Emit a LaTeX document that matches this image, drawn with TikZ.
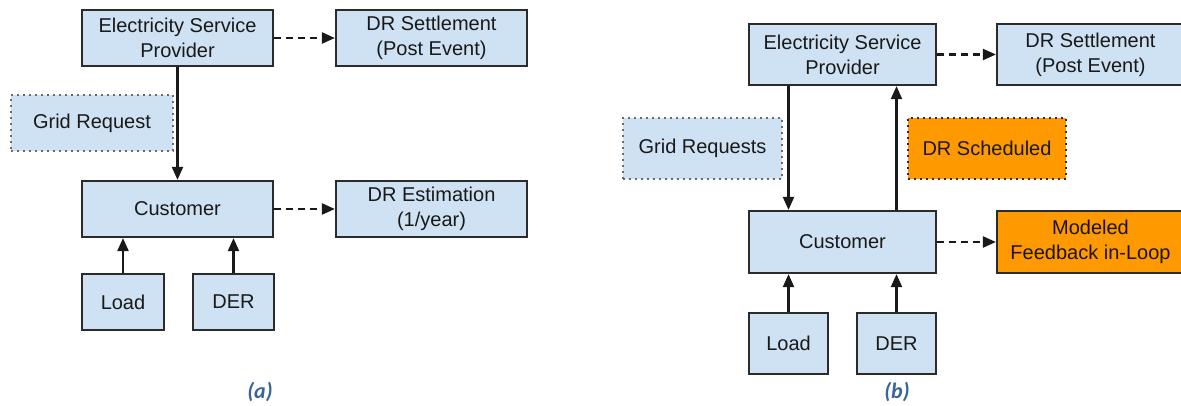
\documentclass[tikz,border=0pt]{standalone}
\usepackage{fontspec}
\setmainfont{Liberation Sans}
\newfontfamily\capfont{Carlito}
\usetikzlibrary{arrows.meta}
\definecolor{boxblue}{HTML}{CFE2F3}
\definecolor{boxorange}{HTML}{FF9900}
\definecolor{edgegray}{HTML}{2B2B2B}
\definecolor{capblue}{HTML}{3A6598}
\tikzset{
  base/.style={draw=edgegray, line width=2.2pt, align=center, inner sep=0pt,
    font=\fontsize{20}{25}\selectfont, text=black!90},
  bluebox/.style={base, fill=boxblue},
  orangebox/.style={base, fill=boxorange, text=black!85!brown},
  dotbox/.style={base, draw=edgegray!70, dash pattern=on 2pt off 4pt},
  solidarrow/.style={line width=2.2pt, draw=black!90, -{Triangle[length=13pt,width=11pt]}},
  dasharrow/.style={solidarrow, dash pattern=on 7pt off 5pt},
  caption/.style={font=\capfont\bfseries\itshape\fontsize{22}{26}\selectfont, text=capblue}
}
\begin{document}
\begin{tikzpicture}[x=1pt,y=-1pt]
\useasboundingbox (0,0) rectangle (1181,406);
\clip (0,0) rectangle (1181,406);
% ---------- panel (a)
\node[bluebox, minimum width=191pt, minimum height=56pt] (aesp) at (177.5,38) {Electricity Service\\Provider};
\node[bluebox, minimum width=191pt, minimum height=56pt] (adrs) at (431.5,38) {DR Settlement\\(Post Event)};
\node[bluebox, dotbox, minimum width=162pt, minimum height=56pt] (agr) at (92,123) {Grid Request};
\node[bluebox, minimum width=191pt, minimum height=56pt] (acust) at (177.5,209) {Customer};
\node[bluebox, minimum width=191pt, minimum height=56pt] (adre) at (431.5,209) {DR Estimation\\(1/year)};
\node[bluebox, minimum width=82pt, minimum height=56pt] (aload) at (123,302) {Load};
\node[bluebox, minimum width=81pt, minimum height=56pt] (ader) at (233.5,302) {DER};
\draw[solidarrow] (aesp.south) -- (acust.north);
\draw[solidarrow] (aload.north) -- (aload.north |- acust.south);
\draw[solidarrow] (ader.north) -- (ader.north |- acust.south);
\draw[dasharrow] (aesp.east) -- (adrs.west);
\draw[dasharrow] (acust.east) -- (adre.west);
\node[caption] (capa) at (260,392) {(a)};
% ---------- panel (b)
\node[bluebox, minimum width=187pt, minimum height=61pt] (besp) at (842.5,54.5) {Electricity Service\\Provider};
\node[bluebox, minimum width=187pt, minimum height=61pt] (bdrs) at (1090.5,54.5) {DR Settlement\\(Post Event)};
\node[bluebox, dotbox, minimum width=159pt, minimum height=61pt] (bgr) at (702.5,148.5) {Grid Requests};
\node[orangebox, dotbox, draw=edgegray, minimum width=158pt, minimum height=61pt] (bsch) at (987,148.5) {DR Scheduled};
\node[bluebox, minimum width=187pt, minimum height=62pt] (bcust) at (842.5,242) {Customer};
\node[orangebox, minimum width=187pt, minimum height=62pt] (bmf) at (1090.5,242) {Modeled\\Feedback in-Loop};
\node[bluebox, minimum width=79pt, minimum height=61pt] (bload) at (788.5,343.5) {Load};
\node[bluebox, minimum width=79pt, minimum height=61pt] (bder) at (896.5,343.5) {DER};
\draw[solidarrow] (bload.north |- besp.south) -- (bload.north |- bcust.north);
\draw[solidarrow] (bder.north |- bcust.north) -- (bder.north |- besp.south);
\draw[solidarrow] (bload.north) -- (bload.north |- bcust.south);
\draw[solidarrow] (bder.north) -- (bder.north |- bcust.south);
\draw[dasharrow] (besp.east) -- (bdrs.west);
\draw[dasharrow] (bcust.east) -- (bmf.west);
\node[caption] (capb) at (897,392) {(b)};
\end{tikzpicture}
\end{document}
